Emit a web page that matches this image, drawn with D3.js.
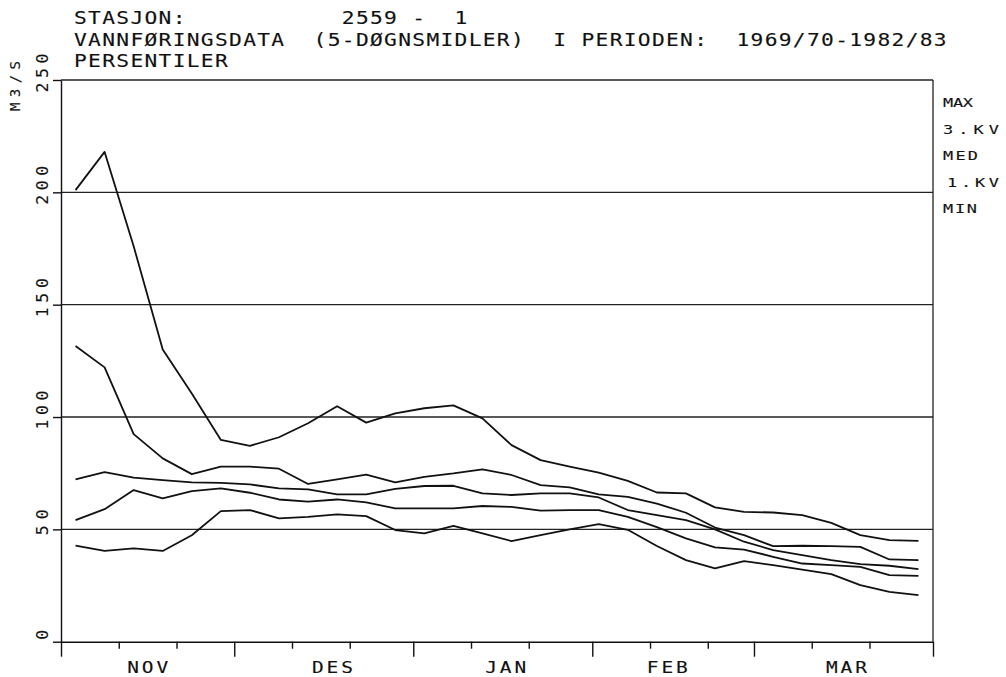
<!DOCTYPE html>
<html>
<head>
<meta charset="utf-8">
<script src="https://cdn.jsdelivr.net/npm/d3@7/dist/d3.min.js"></script>
<style>
  body { margin: 0; background: #fff; }
  svg { display: block; }
  text { font-family: "DejaVu Sans Mono", monospace; fill: #111; stroke: #111; stroke-width: 0.12; white-space: pre; }
</style>
</head>
<body>
<svg width="1006" height="677"></svg>
<script>
// 5-døgnsmidler, percentiles per pentad, Nov 1 - Mar 31
const pentads = [1, 2, 3, 4, 5, 6, 7, 8, 9, 10, 11, 12, 13, 14, 15,
                 16, 17, 18, 19, 20, 21, 22, 23, 24, 25, 26, 27, 28, 29, 30];

const maxVals = [201, 218, 176, 130, 110.5, 89.8, 87.2, 91, 97.2, 104.8,
                 97.5, 101.6, 103.9, 105.2, 99.4, 87.5, 80.8, 77.9, 75.2, 71.6,
                 66.4, 66, 59.8, 57.8, 57.5, 56.3, 52.9, 47.4, 45.2, 44.9];
const q3Vals = [131.6, 122.1, 92.4, 81.6, 74.6, 77.9, 77.9, 77, 70.2, 72.2,
                74.4, 70.9, 73.4, 74.9, 76.7, 74.2, 69.7, 68.7, 65.6, 64.5,
                61.5, 57.4, 50.8, 47.4, 42.5, 42.7, 42.5, 42.2, 36.6, 36.3];
const medVals = [72.2, 75.5, 73, 71.9, 70.9, 70.7, 70, 68.2, 67.8, 65.6,
                 65.6, 68, 69.3, 69.4, 66, 65.3, 66, 66, 64.2, 58.6,
                 56.3, 54.1, 50, 44.5, 40.8, 38.5, 36.3, 34.5, 33.8, 32.3];
const q1Vals = [54.1, 59, 67.5, 63.8, 67, 68.2, 66.3, 63.3, 62.3, 63.3,
                62, 59.3, 59.3, 59.3, 60.4, 60, 58.3, 58.6, 58.6, 55.6,
                51, 46, 42, 41, 37.8, 34.8, 34.1, 33.3, 29.6, 29.3];
const minVals = [42.8, 40.4, 41.5, 40.4, 47.4, 58.1, 58.6, 54.9, 55.6, 56.7,
                 55.9, 49.7, 48.2, 51.6, 48.2, 44.8, 47.4, 50, 52.3, 49.8,
                 42.6, 36.3, 32.6, 35.9, 34.1, 32.1, 30.1, 25.2, 22.2, 20.7];

const legendLabels = ['MAX', '3.KV', 'MED', '1.KV', 'MIN'];

// days counted from 1 Nov
const months = ['NOV', 'DES', 'JAN', 'FEB', 'MAR'];
const monthStart = [0, 30, 61, 92, 120, 151];
const monthLabelDay = [15, 47, 77, 105, 136];
const tenDayMarks = [10, 20, 40, 50, 71, 81, 102, 112, 130, 140];
const yTicks = [0, 50, 100, 150, 200, 250];
const gridValues = [50, 100, 150, 200, 250];

const headerLines = [
  'STASJON:           2559 -  1',
  'VANNFØRINGSDATA  (5-DØGNSMIDLER)  I PERIODEN:  1969/70-1982/83',
  'PERSENTILER'
];

const svg = d3.select('svg');
const width = +svg.attr('width');
const height = +svg.attr('height');
const margin = { top: 80, right: 73, bottom: 35.3, left: 61 };
const innerWidth = width - margin.left - margin.right;
const innerHeight = height - margin.top - margin.bottom;

const x = d3.scaleLinear().domain([0, 151]).range([0, innerWidth]);
const xp = d3.scaleBand().domain(pentads).range([0, innerWidth]);
const y = d3.scaleLinear().domain([0, 250]).range([innerHeight, 0]);

// plotter lettering: wide monospace glyphs
const plotText = (parent, str, px, py, size, sx, len, anchor) => {
  const t = parent.append('text')
    .attr('transform', `translate(${px},${py}) scale(${sx},1)`)
    .attr('font-size', size)
    .attr('text-anchor', anchor || 'start')
    .text(str);
  if (len) t.attr('textLength', len / sx).attr('lengthAdjust', 'spacing');
  return t;
};

const g = svg.append('g')
  .attr('transform', `translate(${margin.left},${margin.top})`);

// horizontal lines + right frame
g.selectAll('.grid').data(gridValues)
  .enter().append('line')
    .attr('class', 'grid')
    .attr('x1', 0).attr('x2', innerWidth)
    .attr('y1', d => y(d)).attr('y2', d => y(d))
    .attr('stroke', '#222')
    .attr('stroke-width', 1.3);

g.append('line')
  .attr('x1', innerWidth).attr('x2', innerWidth)
  .attr('y1', 0).attr('y2', innerHeight)
  .attr('stroke', '#222')
  .attr('stroke-width', 1.3);

// y axis
const yAxisG = g.append('g')
  .call(d3.axisLeft(y).tickValues(yTicks).tickSize(8).tickSizeOuter(0).tickFormat(''));
yAxisG.selectAll('path, line').attr('stroke', '#111').attr('stroke-width', 1.4);

yAxisG.selectAll('.ylab').data(yTicks)
  .enter().append('text')
    .attr('class', 'ylab')
    .attr('transform', d => `translate(-13,${y(d) - 7}) rotate(-90)`)
    .attr('text-anchor', 'middle')
    .attr('font-size', 16.5)
    .attr('textLength', d => String(d).length * 13)
    .text(d => d);

svg.append('text')
  .attr('transform', 'translate(20,86) rotate(-90)')
  .attr('text-anchor', 'middle')
  .attr('font-size', 14)
  .attr('textLength', 50)
  .text('M3/S');

// x axis: month ticks long, ten-day ticks short
const xAxisG = g.append('g')
  .attr('transform', `translate(0,${innerHeight})`)
  .call(d3.axisBottom(x).tickValues(monthStart).tickSize(15).tickSizeOuter(0).tickFormat(''));
xAxisG.selectAll('path, line').attr('stroke', '#111').attr('stroke-width', 1.4);

const xMinorG = g.append('g')
  .attr('transform', `translate(0,${innerHeight})`)
  .call(d3.axisBottom(x).tickValues(tenDayMarks).tickSize(7).tickFormat(''));
xMinorG.select('.domain').remove();
xMinorG.selectAll('line').attr('stroke', '#111').attr('stroke-width', 1.4);

months.forEach((m, i) => {
  plotText(xAxisG, m, x(monthLabelDay[i]), 31, 15, 1.3, 41, 'middle');
});

// percentile lines
const line = d3.line()
  .x((d, i) => xp(pentads[i]) + xp.bandwidth() / 2)
  .y(d => y(d));

g.selectAll('.series').data([maxVals, q3Vals, medVals, q1Vals, minVals])
  .enter().append('path')
    .attr('class', 'series')
    .attr('d', line)
    .attr('fill', 'none')
    .attr('stroke', '#111')
    .attr('stroke-width', 1.8)
    .attr('stroke-linejoin', 'round');

// legend on the right
const legendLen = [30, 56, 35, 52, 34];
const legendX = [943, 943, 943, 947, 943];
legendLabels.forEach((d, i) => {
  plotText(svg, d, legendX[i], 107 + i * 26.5, 12.5, 1.35, legendLen[i]);
});

// header, monospace at ~14.1 px per character
const headerSx = 1.25;
headerLines.forEach((s, i) => {
  plotText(svg, s, 74, 24 + i * 21.5, 17, headerSx)
    .attr('letter-spacing', 14.1 / headerSx - 17 * 0.602);
});
</script>
</body>
</html>
